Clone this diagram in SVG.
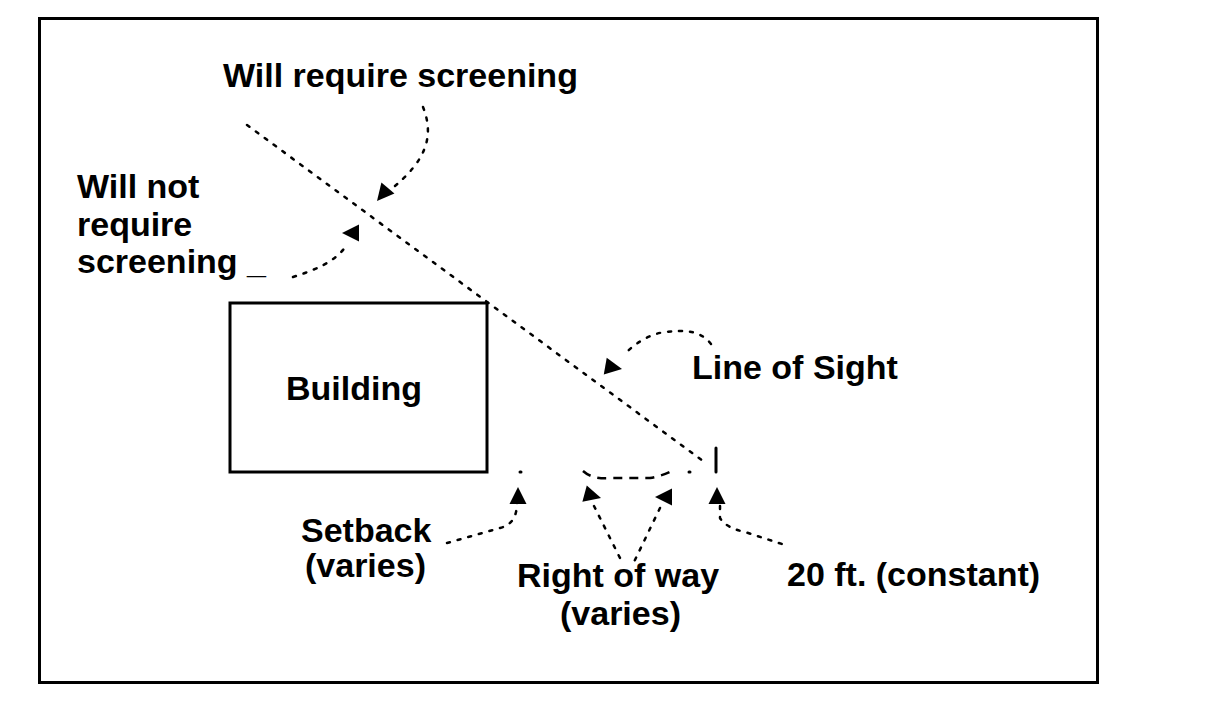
<svg xmlns="http://www.w3.org/2000/svg" xmlns:xlink="http://www.w3.org/1999/xlink" width="1208" height="720" viewBox="0 0 1208 720">
  <style>
    .lbl { font-family: "Liberation Sans", Arial, sans-serif; font-weight: bold; font-size: 34px; fill: #000; }
    .frame { fill: none; stroke: #000; stroke-width: 3; }
    .dot { fill: none; stroke: #000; stroke-width: 2.5; stroke-dasharray: 3 8; stroke-linecap: round; }
    .dash { fill: none; stroke: #000; stroke-width: 2.5; stroke-dasharray: 9 7; }
    .solid { fill: none; stroke: #000; stroke-width: 3; stroke-linecap: round; }
    .ah { fill: #000; }
  </style>
  <defs>
    <path id="ah" class="ah" d="M0,0 L-17,-8.5 L-17,8.5 Z"/>
  </defs>
  <rect width="1208" height="720" fill="#fff"/>
  <rect id="frame" class="frame" x="39.5" y="18.5" width="1058" height="664"/>

  <g id="building">
    <rect class="frame" x="230" y="303" width="257" height="169"/>
    <text class="lbl" x="354" y="400" text-anchor="middle">Building</text>
  </g>
  <g id="will-require">
    <text class="lbl" x="223" y="87">Will require screening</text>
  </g>
  <g id="will-not-require">
    <text class="lbl" x="77" y="198">Will not</text>
    <text class="lbl" x="77" y="236">require</text>
    <text class="lbl" x="77" y="273">screening _</text>
  </g>
  <g id="line-of-sight-label">
    <text class="lbl" x="692" y="379">Line of Sight</text>
  </g>
  <g id="setback">
    <text class="lbl" x="301" y="542">Setback</text>
    <text class="lbl" x="305" y="577">(varies)</text>
  </g>
  <g id="right-of-way">
    <text class="lbl" x="517" y="587">Right of way</text>
    <text class="lbl" x="560" y="625">(varies)</text>
  </g>
  <g id="twenty-ft">
    <text class="lbl" x="787" y="586">20 ft. (constant)</text>
  </g>

  <g id="connectors">
    <path class="dot" d="M247,125 L703,461"/>
    <path class="solid" d="M716,448 L716,472"/>
    <path class="dot" d="M423,107 C434,135 428,160 390,190"/>
    <use xlink:href="#ah" transform="translate(377,201) rotate(130)"/>
    <path class="dot" d="M293,277 C315,270 335,262 346,246"/>
    <use xlink:href="#ah" transform="translate(342,233) rotate(180)"/>
    <path class="dot" d="M711,344 C700,330 685,330 665,332 C650,334 635,343 625,354"/>
    <use xlink:href="#ah" transform="translate(622,369) rotate(10)"/>
    <path class="dot" d="M447,543 L500,528 Q517,524 517,503"/>
    <use xlink:href="#ah" transform="translate(518,487) rotate(-90)"/>
    <path class="dot" d="M594,506 L622,562 M660,508 L634,562"/>
    <use xlink:href="#ah" transform="translate(601,498) rotate(15)"/>
    <use xlink:href="#ah" transform="translate(655,497) rotate(180)"/>
    <path class="dot" d="M720,506 L720,518 Q726,528 745,532 L785,545"/>
    <use xlink:href="#ah" transform="translate(717,487) rotate(-90)"/>
    <path class="dash" d="M583,471 Q593,480 612,478 L650,478 Q662,476 672,471"/>
    <path class="solid" d="M520,472 L521,472 M689,472 L690,472"/>
  </g>
</svg>
